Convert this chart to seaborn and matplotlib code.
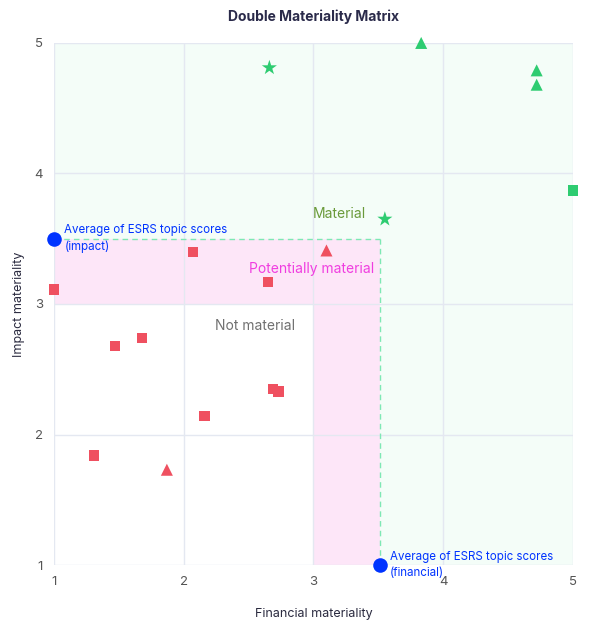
import matplotlib
matplotlib.use('Agg')
import matplotlib.pyplot as plt
import seaborn as sns
import pandas as pd

# scores
financial = [2.66, 3.55, 3.83, 4.72, 4.72, 5.0,
             1.0, 2.07, 2.65, 1.47, 1.68, 1.31, 2.16, 2.69, 2.73, 3.10, 1.87]
impact = [4.81, 3.65, 5.0, 4.79, 4.68, 3.87,
          3.11, 3.40, 3.17, 2.68, 2.74, 1.84, 2.14, 2.35, 2.33, 3.41, 1.73]
group = ['material'] * 6 + ['other'] * 11
shape = ['star', 'star', 'triangle', 'triangle', 'triangle', 'square',
         'square', 'square', 'square', 'square', 'square', 'square', 'square', 'square', 'square',
         'triangle', 'triangle']

avg_financial = 3.51
avg_impact = 3.5

df = pd.DataFrame({'Financial materiality': financial, 'Impact materiality': impact,
                   'group': group, 'shape': shape})

sns.set_style('white')
plt.rcParams['font.family'] = ['Inter', 'DejaVu Sans']

fig = plt.figure(figsize=(5.92, 6.26), dpi=100)
ax = fig.add_axes([0.0912, 0.0974, 0.8767, 0.834])

# background regions
ax.axvspan(1, 5, ymin=0, ymax=1, color='#f4fdf8', zorder=0, lw=0)
ax.fill_between([1, 3], 1, 3, color='white', zorder=0.5, lw=0)
ax.fill_between([1, avg_financial], 3, avg_impact, color='#fde6f8', zorder=0.5, lw=0)
ax.fill_between([3, avg_financial], 1, 3, color='#fde6f8', zorder=0.5, lw=0)

ax.set_xlim(1, 5)
ax.set_ylim(1, 5)
ax.set_xticks([1, 2, 3, 4, 5])
ax.set_yticks([1, 2, 3, 4, 5])
ax.grid(True, color='#e4e8f1', lw=1, zorder=1)
ax.set_axisbelow(True)
for s in ax.spines.values():
    s.set_visible(False)

ax.plot([1, avg_financial], [avg_impact, avg_impact], ls=(0, (4, 3)), color='#7ee8b4', lw=1, zorder=2)
ax.plot([avg_financial, avg_financial], [1, avg_impact], ls=(0, (4, 3)), color='#7ee8b4', lw=1, zorder=2)

sns.scatterplot(data=df, x='Financial materiality', y='Impact materiality', hue='group', style='shape',
                size='shape', sizes={'star': 130, 'triangle': 75, 'square': 55},
                palette={'material': '#2ecc71', 'other': '#ef5060'},
                markers={'star': '*', 'triangle': '^', 'square': 's'},
                linewidth=0, legend=False, ax=ax, zorder=4, clip_on=False)

ax.scatter([1, avg_financial], [avg_impact, 1], s=110, color='#0033ff', zorder=5, clip_on=False, lw=0)
ax.text(1.08, 3.5, 'Average of ESRS topic scores\n(impact)', color='#0033ff', fontsize=8.3,
        va='center', ha='left', linespacing=1.5, zorder=6)
ax.text(3.59, 1.0, 'Average of ESRS topic scores\n(financial)', color='#0033ff', fontsize=8.3,
        va='center', ha='left', linespacing=1.5, zorder=6)

ax.text(3.4, 3.69, 'Material', color='#6a9a3a', fontsize=10, ha='right', va='center', zorder=6)
ax.text(3.47, 3.27, 'Potentially material', color='#f03ee0', fontsize=10, ha='right', va='center', zorder=6)
ax.text(2.55, 2.83, 'Not material', color='#707070', fontsize=10, ha='center', va='center', zorder=6)

ax.tick_params(colors='#555555', labelsize=9.5, length=0, pad=8)
ax.set_xlabel('Financial materiality', fontsize=9, color='#2a2a3f', labelpad=14)
ax.set_ylabel('Impact materiality', fontsize=9, color='#2a2a3f', labelpad=7)
ax.set_title('Double Materiality Matrix', fontsize=10, fontweight='bold', color='#2a2a4a', pad=16)

fig.savefig('out.png', dpi=100)
